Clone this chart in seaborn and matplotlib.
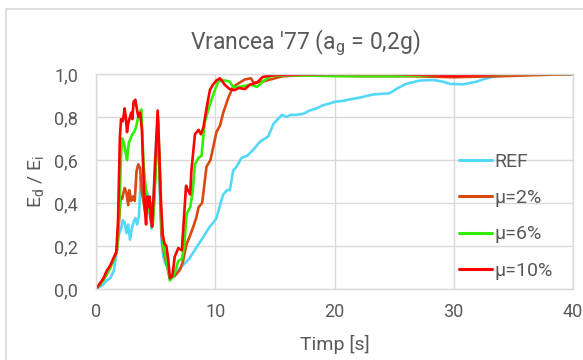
import pandas as pd
import matplotlib.pyplot as plt
import seaborn as sns
from matplotlib.lines import Line2D

# ----------------------
# data (t in s, Ed/Ei)
# ----------------------
t_ref = [0, 0.3, 0.6, 0.9, 1.2, 1.5, 1.75, 1.95, 2.1, 2.25, 2.4, 2.55, 2.7, 2.85, 3.0, 3.15, 3.3, 3.45,
         3.6, 3.75, 3.9, 4.05, 4.2, 4.35, 4.5, 4.65, 4.8, 4.95, 5.1, 5.2, 5.35, 5.5, 5.65, 5.8, 6.0, 6.2,
         6.5, 6.8, 7.1, 7.45, 7.8, 8.16, 8.5, 8.86, 9.2, 9.55, 9.85, 10.1, 10.4, 10.67, 11.0, 11.23, 11.5,
         11.8, 12.2, 12.7, 13.3, 13.75, 14.45, 14.9, 15.6, 16.0, 16.3, 16.8, 17.4, 17.9, 18.5, 19.05, 19.6,
         20.0, 20.7, 21.3, 22.1, 23.25, 24.6, 25.3, 26.0, 27.2, 28.3, 29.1, 29.7, 30.8, 31.9, 32.5, 33.3,
         34.5, 36, 38, 40]
v_ref = [0, 0.01, 0.02, 0.04, 0.05, 0.085, 0.18, 0.26, 0.28, 0.32, 0.31, 0.26, 0.30, 0.23, 0.28, 0.31, 0.33, 0.30,
         0.34, 0.52, 0.46, 0.44, 0.46, 0.44, 0.36, 0.28, 0.40, 0.60, 0.74, 0.78, 0.45, 0.22, 0.15, 0.12, 0.10, 0.05,
         0.07, 0.085, 0.10, 0.12, 0.14, 0.17, 0.20, 0.23, 0.26, 0.29, 0.31, 0.33, 0.39, 0.44, 0.46, 0.46, 0.55,
         0.57, 0.61, 0.62, 0.655, 0.685, 0.71, 0.77, 0.81, 0.80, 0.81, 0.81, 0.815, 0.83, 0.84, 0.855, 0.863,
         0.87, 0.875, 0.882, 0.89, 0.905, 0.91, 0.934, 0.954, 0.97, 0.972, 0.964, 0.954, 0.952, 0.964, 0.976, 0.987,
         0.995, 0.998, 1.0, 1.0]

t_mu2 = [0, 0.3, 0.6, 0.9, 1.2, 1.5, 1.75, 1.95, 2.07, 2.2, 2.4, 2.55, 2.7, 2.8, 2.95, 3.1, 3.25, 3.4, 3.55,
         3.7, 3.85, 4.0, 4.15, 4.3, 4.45, 4.6, 4.75, 4.9, 5.05, 5.2, 5.35, 5.5, 5.7, 5.9, 6.2, 6.6, 7.05, 7.3,
         7.6, 7.9, 8.16, 8.4, 8.6, 8.9, 9.27, 9.6, 10.1, 10.4, 10.67, 11.1, 11.5, 11.9, 12.5, 13.0, 13.2, 14.0,
         15.0, 15.7, 18, 22, 26, 30, 34, 37, 40]
v_mu2 = [0, 0.02, 0.04, 0.07, 0.1, 0.14, 0.18, 0.33, 0.43, 0.42, 0.47, 0.45, 0.39, 0.46, 0.41, 0.43, 0.41, 0.55, 0.58,
         0.56, 0.45, 0.40, 0.35, 0.42, 0.38, 0.32, 0.30, 0.45, 0.62, 0.78, 0.50, 0.25, 0.17, 0.12, 0.05, 0.06, 0.09, 0.13,
         0.21, 0.25, 0.29, 0.33, 0.38, 0.40, 0.57, 0.60, 0.73, 0.76, 0.82, 0.89, 0.94, 0.955, 0.975, 0.98, 0.96, 0.965,
         0.98, 0.99, 0.995, 0.99, 0.99, 0.985, 0.99, 0.995, 1.0]

t_mu6 = [0, 0.3, 0.6, 0.9, 1.2, 1.5, 1.75, 1.95, 2.1, 2.2, 2.35, 2.5, 2.6, 2.75, 2.9, 3.05, 3.2, 3.35, 3.5,
         3.65, 3.8, 3.9, 4.0, 4.15, 4.3, 4.45, 4.6, 4.75, 4.9, 5.05, 5.2, 5.35, 5.5, 5.65, 5.85, 6.0, 6.2, 6.5,
         6.9, 7.2, 7.4, 7.6, 7.9, 8.1, 8.3, 8.6, 8.85, 9.1, 9.5, 9.97, 10.25, 10.5, 10.8, 11.2, 11.5, 12.0,
         12.5, 13.0, 13.5, 14.0, 14.6, 16, 20, 25, 30, 35, 40]
v_mu6 = [0, 0.02, 0.04, 0.07, 0.1, 0.14, 0.18, 0.35, 0.62, 0.70, 0.68, 0.63, 0.60, 0.68, 0.70, 0.72, 0.73, 0.75, 0.79,
         0.82, 0.835, 0.70, 0.57, 0.48, 0.40, 0.36, 0.40, 0.29, 0.42, 0.62, 0.80, 0.55, 0.30, 0.20, 0.15, 0.10, 0.04, 0.06,
         0.13, 0.14, 0.20, 0.35, 0.38, 0.45, 0.58, 0.61, 0.62, 0.77, 0.85, 0.925, 0.965, 0.97, 0.97, 0.965, 0.94, 0.94,
         0.945, 0.95, 0.94, 0.965, 0.99, 0.995, 0.99, 0.99, 0.995, 1.0, 1.0]

t_mu10 = [0, 0.2, 0.6, 0.9, 1.2, 1.5, 1.7, 1.85, 2.0, 2.1, 2.25, 2.4, 2.5, 2.6, 2.7, 2.8, 2.95, 3.05, 3.15,
          3.3, 3.45, 3.55, 3.7, 3.85, 4.0, 4.1, 4.2, 4.3, 4.4, 4.5, 4.6, 4.7, 4.85, 5.0, 5.17, 5.3, 5.45, 5.6,
          5.75, 5.9, 6.05, 6.2, 6.4, 6.6, 6.9, 7.2, 7.55, 7.7, 7.9, 8.0, 8.3, 8.6, 8.8, 9.0, 9.3, 9.55, 9.8,
          10.1, 10.4, 10.8, 11.2, 11.6, 12.0, 12.5, 12.9, 13.5, 14.0, 15, 17, 20, 25, 28, 30, 32, 34, 36, 40]
v_mu10 = [0, 0.016, 0.047, 0.085, 0.11, 0.148, 0.17, 0.32, 0.70, 0.79, 0.78, 0.84, 0.80, 0.73, 0.77, 0.79, 0.82, 0.79, 0.87,
          0.88, 0.83, 0.80, 0.82, 0.74, 0.50, 0.37, 0.30, 0.43, 0.38, 0.43, 0.35, 0.29, 0.45, 0.63, 0.83, 0.65, 0.40, 0.25,
          0.21, 0.20, 0.14, 0.05, 0.06, 0.15, 0.19, 0.18, 0.48, 0.46, 0.44, 0.55, 0.72, 0.74, 0.72, 0.75, 0.85, 0.925, 0.95,
          0.97, 0.98, 0.95, 0.93, 0.925, 0.935, 0.93, 0.95, 0.96, 0.987, 0.995, 0.998, 1.0, 1.0, 0.995, 0.99, 0.995, 1.0, 1.0, 1.0]

series_names = ["REF", "μ=2%", "μ=6%", "μ=10%"]
series_colors = ["#55D8F8", "#D9480F", "#33EE00", "#FF0000"]
x_ticks = [0, 10, 20, 30, 40]
y_ticks = [0.0, 0.2, 0.4, 0.6, 0.8, 1.0]
y_tick_labels = ["0,0", "0,2", "0,4", "0,6", "0,8", "1,0"]

# ----------------------
# long table for seaborn
# ----------------------
frames = []
for name, t, v in zip(series_names, [t_ref, t_mu2, t_mu6, t_mu10], [v_ref, v_mu2, v_mu6, v_mu10]):
    frames.append(pd.DataFrame({"t": t, "v": v, "serie": name}))
df = pd.concat(frames, ignore_index=True)

sns.set_style("white")
plt.rcParams["font.family"] = ["Roboto", "DejaVu Sans"]
plt.rcParams["mathtext.default"] = "regular"
txt = "#595959"
grid_c = "#D9D9D9"

fig = plt.figure(figsize=(5.83, 3.6), dpi=100)
ax = fig.add_axes([96 / 583, 1 - 289 / 360, 477 / 583, 215 / 360])

sns.lineplot(data=df, x="t", y="v", hue="serie", hue_order=series_names,
             palette=series_colors, sort=False, estimator=None, linewidth=1.9, ax=ax)

ax.set_xlim(0, 40)
ax.set_ylim(0, 1)
ax.set_xticks(x_ticks)
ax.set_yticks(y_ticks)
ax.set_yticklabels(y_tick_labels)
ax.tick_params(axis="both", length=0, labelsize=13, colors=txt)
ax.tick_params(axis="y", pad=13)
ax.tick_params(axis="x", pad=10)
ax.grid(True, color=grid_c, linewidth=1)
ax.set_axisbelow(True)
for s in ax.spines.values():
    s.set_color(grid_c)
    s.set_linewidth(1)

ax.set_xlabel("Timp [s]", fontsize=14, color=txt, labelpad=10)
ax.set_ylabel(r"E$_d$ / E$_i$", fontsize=14, color=txt, labelpad=6)
ax.set_title(r"Vrancea '77 (a$_g$ = 0,2g)", fontsize=16.5, color=txt, pad=18, x=(305 - 96) / 477)

leg = ax.legend(loc="upper left", bbox_to_anchor=(0.74, 0.68), frameon=False, fontsize=14,
                handlelength=1.7, handletextpad=0.15, labelspacing=0.95, borderpad=0)
for txt_item in leg.get_texts():
    txt_item.set_color(txt)
for h in leg.get_lines():
    h.set_linewidth(2.2)

# outer chart border
fig.add_artist(Line2D([6 / 583, 6 / 583], [0, 1 - 9 / 360], color=grid_c, linewidth=1.2))
fig.add_artist(Line2D([6 / 583, 1], [1 - 9 / 360, 1 - 9 / 360], color=grid_c, linewidth=1.2))

plt.savefig("out.png", dpi=100)
plt.close()
